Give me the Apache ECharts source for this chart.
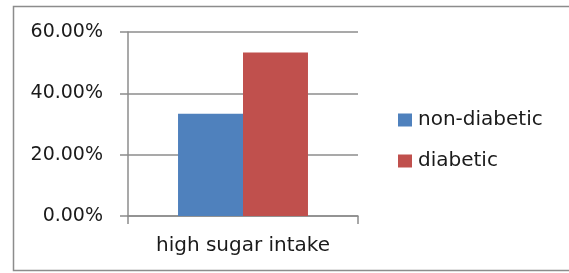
<!DOCTYPE html>
<html>
<head>
<meta charset="utf-8">
<script src="https://cdn.jsdelivr.net/npm/echarts@6/dist/echarts.min.js"></script>
<style>
  html, body { margin: 0; padding: 0; background: #fff; }
  #chart { width: 569px; height: 273px; }
</style>
</head>
<body>
<div id="chart"></div>
<script>
// data
const categories = ['high sugar intake']
const nonDiabetic = [0.3333]
const diabetic = [0.5333]
const seriesNames = ['non-diabetic', 'diabetic']

const chart = echarts.init(document.getElementById('chart'))
const font = 'DejaVu Sans'

const option = {
  animation: false,
  textStyle: { fontFamily: font },
  graphic: [
    {
      type: 'rect',
      shape: { x: 13.5, y: 6.5, width: 570, height: 264 },
      style: { fill: 'none', stroke: '#8c8c8c', lineWidth: 1.5 },
      z: -1
    }
  ],
  grid: { left: 128, right: 211, top: 32, bottom: 57 },
  legend: {
    orient: 'vertical',
    left: 398,
    top: 110,
    padding: 0,
    itemWidth: 14,
    itemHeight: 13,
    itemGap: 21,
    icon: 'rect',
    textStyle: { fontSize: 20, lineHeight: 20, color: '#1a1a1a', fontFamily: font, padding: [0, 0, 0, 1] },
    data: seriesNames
  },
  xAxis: {
    type: 'category',
    data: categories,
    axisLine: { lineStyle: { color: '#8c8c8c', width: 1.5 } },
    axisTick: { show: true, length: 8, lineStyle: { color: '#8c8c8c', width: 1.5 } },
    axisLabel: { fontSize: 20, lineHeight: 20, color: '#1a1a1a', margin: 20 }
  },
  yAxis: {
    type: 'value',
    min: 0,
    max: 0.6,
    interval: 0.2,
    axisLine: { show: true, lineStyle: { color: '#8c8c8c', width: 1.5 } },
    axisTick: { show: true, length: 8, lineStyle: { color: '#8c8c8c', width: 1.5 } },
    splitLine: { lineStyle: { color: '#8c8c8c', width: 1.5 } },
    axisLabel: {
      fontSize: 19,
      color: '#1a1a1a',
      margin: 25,
      formatter: v => (v * 100).toFixed(2) + '%'
    }
  },
  series: [
    {
      name: seriesNames[0],
      type: 'bar',
      data: nonDiabetic,
      itemStyle: { color: '#4f81bd' },
      barGap: '0%',
      barCategoryGap: '43.5%'
    },
    {
      name: seriesNames[1],
      type: 'bar',
      data: diabetic,
      itemStyle: { color: '#c0504d' },
      barGap: '0%',
      barCategoryGap: '43.5%'
    }
  ]
}
option && chart.setOption(option)
</script>
</body>
</html>
